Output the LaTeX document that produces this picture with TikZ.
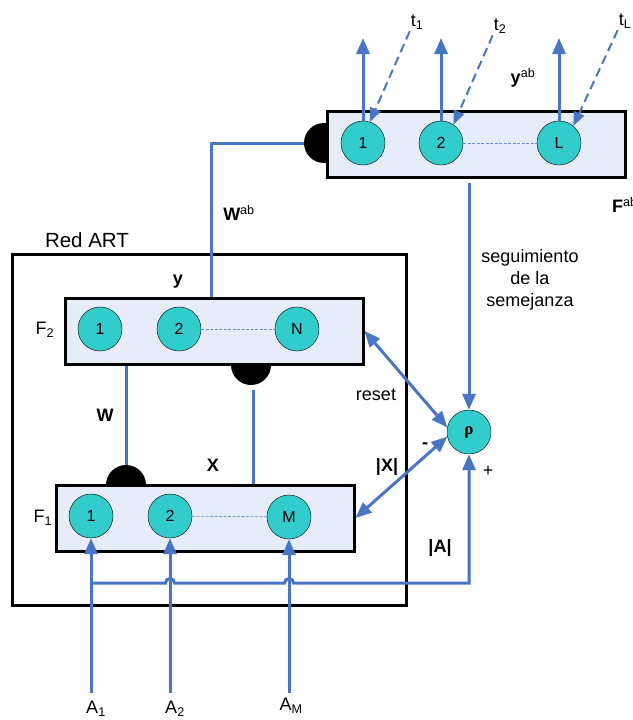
\documentclass[tikz,border=0pt]{standalone}
\usepackage{amsmath}
\usepackage{fontspec}
\setmainfont{Liberation Sans}
\newfontfamily\greekserif{Liberation Serif}
\usetikzlibrary{arrows.meta, positioning, calc}
\definecolor{linkblue}{RGB}{72,118,196}
\definecolor{cellteal}{RGB}{51,204,204}
\definecolor{layerfill}{RGB}{230,236,248}

\begin{document}
\begin{tikzpicture}[
    x=1pt, y=-1pt,
    link/.style={line width=3pt, linkblue},
    arr/.style={-{Triangle[length=16pt,width=13pt]}, line width=3pt, linkblue},
    dualarr/.style={{Triangle[length=16pt,width=13pt]}-{Triangle[length=16pt,width=13pt]}, line width=3pt, linkblue},
    teach/.style={-{Triangle[length=14pt,width=11pt]}, line width=2pt, linkblue, dash pattern=on 9pt off 5pt, shorten <=2pt},
    layer/.style={rectangle, draw, line width=3pt, fill=layerfill, minimum width=298pt, minimum height=66pt},
    cell/.style={circle, draw, thin, fill=cellteal, minimum size=44pt, inner sep=0pt, font=\fontsize{16}{18}\selectfont},
    cellgap/.style={linkblue!80, line width=0.8pt, dash pattern=on 3pt off 1.5pt},
    gate/.style={circle, fill=black, minimum size=40pt, inner sep=0pt},
    lbl/.style={font=\fontsize{18}{22}\selectfont, inner sep=0pt},
    blbl/.style={font=\fontsize{18}{22}\selectfont\bfseries, inner sep=0pt},
]
\useasboundingbox (0,0) rectangle (632,720);

% ART network frame
\node[rectangle, draw, line width=3pt, minimum width=394pt, minimum height=351pt] (art) at (209,429.5) {};
\node[lbl, font=\fontsize{20.5}{24}\selectfont] (artname) at (87,240) {Red ART};

% Gates (half hidden by the layers)
\node[gate] (gab) at (324,143) {};
\node[gate] (gx) at (251,365) {};
\node[gate] (gw) at (126,485) {};

% Layers
\node[layer] (fab) at (476,144.5) {};
\node[layer] (ftwo) at (214,331) {};
\node[layer] (fone) at (205,518) {};

% Cells
\node[cell] (fab1) at (363,143) {1};
\node[cell] (fab2) at (441,143) {2};
\node[cell] (fabL) at (559,143) {L};
\node[cell] (ftwo1) at (100,329) {1};
\node[cell] (ftwo2) at (179,329) {2};
\node[cell] (ftwoN) at (297,329) {N};
\node[cell] (fone1) at (91,516) {1};
\node[cell] (fone2) at (170,516) {2};
\node[cell] (foneM) at (289,517) {M};
\node[cell, font=\fontsize{17}{18}\selectfont\greekserif\bfseries] (rho) at (469,432) {ρ};

\draw[cellgap] (fab2) -- (fabL);
\draw[cellgap] (ftwo2) -- (ftwoN);
\draw[cellgap] (fone2) -- (foneM);

% Layer names
\node[lbl, anchor=west] (fabname) at (612,205) {\textbf{F}\textsuperscript{ab}};
\node[lbl] (ftwoname) at (45,330) {F\textsubscript{2}};
\node[lbl] (fonename) at (43,518) {F\textsubscript{1}};

% Outputs and targets
\coordinate (yout) at (0,38);
\draw[arr] (fab1.north) -- (fab1.north |- yout);
\draw[arr] (fab2.north) -- (fab2.north |- yout);
\draw[arr] (fabL.north) -- (fabL.north |- yout);
\node[lbl] (t1) at (417,22) {t\textsubscript{1}};
\node[lbl] (t2) at (500,26) {t\textsubscript{2}};
\node[lbl] (tL) at (625,21) {t\textsubscript{L}};
\draw[teach] (t1.south west) -- (fab1.72);
\draw[teach] (t2.south west) -- (fab2.56);
\draw[teach] (tL.south west) -- (fabL.50);
\node[lbl] (yab) at (523,78) {\textbf{y}\textsuperscript{ab}};

% Map field link
\coordinate (wabbend) at (211,143);
\draw[link] (wabbend |- ftwo.north) -- (wabbend) -- (gab.west);
\node[lbl] (wab) at (239,213) {\textbf{W}\textsuperscript{ab}};
\node[blbl] (ylbl) at (178,282) {y};

% F2 <-> F1 links
\draw[link] (gw.north |- ftwo.south) -- (gw.north);
\node[blbl] (wlbl) at (105,415) {W};
\coordinate (xtop) at (253,390);
\draw[link] (xtop) -- (xtop |- fone.north);
\node[blbl] (xlbl) at (213,465) {X};

% Vigilance
\draw[arr, shorten <=4pt] (fab.south -| rho.north) -- (rho.north);
\node[lbl, align=center, font=\fontsize{18}{22}\selectfont] (track) at (530,280) {seguimiento\\de la\\semejanza};
\draw[dualarr] (ftwo.east) -- (rho.168);
\node[lbl] (reset) at (376,395) {reset};
\draw[dualarr] (fone.east) -- (rho.192);
\node[blbl] (xnorm) at (387,467) {|X|};
\node[blbl] (minus) at (425,446) {-};
\node[lbl] (plus) at (488,471) {+};

% Inputs
\coordinate (a1) at (91,693);
\coordinate (a2) at (170,693);
\coordinate (aM) at (289,693);
\draw[arr] (a1) -- (a1 |- fone1.south);
\draw[arr] (a2) -- (a2 |- fone2.south);
\draw[arr] (aM) -- (aM |- foneM.south);
\coordinate (tap) at (91,583);
\draw[arr] (tap) -- ($(a2 |- tap)+(-4.5,0)$) arc[start angle=180, end angle=360, radius=4.5]
    -- ($(aM |- tap)+(-4.5,0)$) arc[start angle=180, end angle=360, radius=4.5]
    -- (rho.south |- tap) -- (rho.south);
\node[blbl] (anorm) at (440,548) {|A|};
\node[lbl] (in1) at (96,709) {A\textsubscript{1}};
\node[lbl] (in2) at (175,709) {A\textsubscript{2}};
\node[lbl] (inM) at (291,706) {A\textsubscript{M}};

\end{tikzpicture}
\end{document}
